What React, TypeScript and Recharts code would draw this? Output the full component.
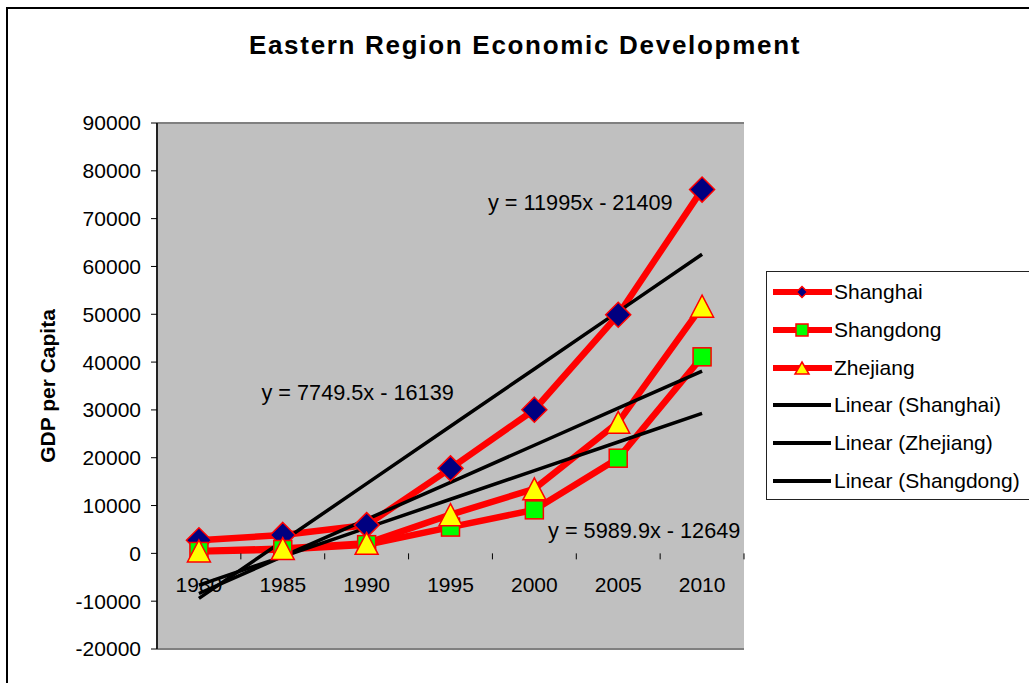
import React from 'react';
import {
  LineChart,
  Line,
  XAxis,
  YAxis,
  CartesianGrid,
  Legend,
  ReferenceDot,
} from 'recharts';

// ---- data ----
const years = ['1980', '1985', '1990', '1995', '2000', '2005', '2010'];
const shanghai = [2738, 3855, 5911, 17779, 30047, 49900, 76074];
const shandong = [400, 800, 1815, 5500, 9100, 19900, 41100];
const zhejiang = [500, 1000, 2100, 8100, 13500, 27400, 51700];
// trendline values as shown by the fitted equations in the picture
const trendShanghai = [-9414, 2581, 14576, 26571, 38566, 50561, 62556];
const trendZhejiang = [-8390, -640, 7110, 14859, 22609, 30358, 38108];
const trendShandong = [-6659, -669, 5321, 11311, 17301, 23290, 29280];
const yTicks = [-20000, -10000, 0, 10000, 20000, 30000, 40000, 50000, 60000, 70000, 80000, 90000];
const equations = [
  { text: 'y = 11995x - 21409', year: '2000', value: 73400, dx: 46 },
  { text: 'y = 7749.5x - 16139', year: '1990', value: 33650, dx: -9 },
  { text: 'y = 5989.9x - 12649', year: '2005', value: 4790, dx: 26 },
];

const data = years.map((year, i) => ({
  year,
  shanghai: shanghai[i],
  shandong: shandong[i],
  zhejiang: zhejiang[i],
  trendSH: trendShanghai[i],
  trendZJ: trendZhejiang[i],
  trendSD: trendShandong[i],
}));

// ---- layout constants ----
const W = 1029;
const H = 683;
const PLOT_LEFT = 157;
const PLOT_RIGHT = 744;
const PLOT_TOP = 123;
const PLOT_BOTTOM = 649;
const Y_MIN = -20000;
const Y_MAX = 90000;
const PLOT_W = PLOT_RIGHT - PLOT_LEFT;
const PLOT_H = PLOT_BOTTOM - PLOT_TOP;
const ZERO_Y = PLOT_TOP + (PLOT_H * (Y_MAX - 0)) / (Y_MAX - Y_MIN);
const FONT = '"Liberation Sans", Arial, sans-serif';
const RED = '#FF0000';
const X_AXIS_H = 20;

// ---- markers ----
const Diamond = ({ cx, cy, r = 12.5 }: any) => (
  <polygon
    points={`${cx},${cy - r} ${cx + r},${cy} ${cx},${cy + r} ${cx - r},${cy}`}
    fill="#000080"
    stroke={RED}
    strokeWidth={1.5}
  />
);
const Square = ({ cx, cy, s = 18 }: any) => (
  <rect x={cx - s / 2} y={cy - s / 2} width={s} height={s} fill="#00FF00" stroke={RED} strokeWidth={1.5} />
);
const Triangle = ({ cx, cy, w = 23, h = 22 }: any) => (
  <polygon
    points={`${cx},${cy - h / 2} ${cx + w / 2},${cy + h / 2} ${cx - w / 2},${cy + h / 2}`}
    fill="#FFFF00"
    stroke={RED}
    strokeWidth={1.5}
  />
);

type Kind = 'diamond' | 'square' | 'triangle' | 'trend';
const series: { key: string; name: string; kind: Kind }[] = [
  { key: 'shanghai', name: 'Shanghai', kind: 'diamond' },
  { key: 'shandong', name: 'Shangdong', kind: 'square' },
  { key: 'zhejiang', name: 'Zhejiang', kind: 'triangle' },
  { key: 'trendSH', name: 'Linear (Shanghai)', kind: 'trend' },
  { key: 'trendZJ', name: 'Linear (Zhejiang)', kind: 'trend' },
  { key: 'trendSD', name: 'Linear (Shangdong)', kind: 'trend' },
];

const makeDot = (kind: Kind) => (p: any) => {
  const k = `${kind}-${p.index}`;
  if (p.cx == null || p.cy == null) return <g key={k} />;
  if (kind === 'diamond') return <Diamond key={k} cx={p.cx} cy={p.cy} />;
  if (kind === 'square') return <Square key={k} cx={p.cx} cy={p.cy} />;
  return <Triangle key={k} cx={p.cx} cy={p.cy} />;
};

const renderXTick = (props: any) => {
  const { x, payload, index } = props;
  const bw = PLOT_W / years.length;
  return (
    <g key={`xt-${index}`}>
      <line x1={x + bw / 2} x2={x + bw / 2} y1={ZERO_Y} y2={ZERO_Y + 6} stroke="#000" strokeWidth={1} />
      <text x={x} y={ZERO_Y + 39} textAnchor="middle" fontSize={21} fontFamily={FONT} fill="#000">
        {payload.value}
      </text>
    </g>
  );
};

const YLabel = (props: any) => {
  const vb = props.viewBox || { x: 0, y: PLOT_TOP, width: PLOT_LEFT, height: PLOT_H };
  const cx = vb.x + 47;
  const cy = vb.y + vb.height / 2;
  return (
    <text
      x={cx}
      y={cy}
      transform={`rotate(-90 ${cx} ${cy})`}
      textAnchor="middle"
      dominantBaseline="central"
      fontSize={21}
      fontWeight="bold"
      fontFamily={FONT}
      fill="#000"
    >
      GDP per Capita
    </text>
  );
};

const gridLine = (p: any) => {
  const edge = Math.abs(p.y1 - PLOT_TOP) < 1.5 || Math.abs(p.y1 - PLOT_BOTTOM) < 1.5;
  return (
    <line
      key={p.key ?? `g-${p.index}`}
      x1={p.x1}
      x2={p.x2}
      y1={p.y1}
      y2={p.y2}
      stroke={edge ? '#808080' : '#000'}
      strokeWidth={edge ? 2 : 1}
    />
  );
};

const LegendIcon = ({ kind }: { kind: Kind }) => {
  const cx = 35;
  const cy = 19;
  if (kind === 'trend')
    return <line x1={6} x2={64} y1={cy} y2={cy} stroke="#000" strokeWidth={4} />;
  return (
    <g>
      <line x1={6} x2={65} y1={cy} y2={cy} stroke={RED} strokeWidth={6} />
      {kind === 'diamond' && <Diamond cx={cx} cy={cy} r={5.5} />}
      {kind === 'square' && <Square cx={cx} cy={cy} s={12} />}
      {kind === 'triangle' && <Triangle cx={cx} cy={cy} w={14} h={12} />}
    </g>
  );
};

const LegendBox = () => (
  <div
    style={{
      width: 300,
      height: 229,
      border: '1.5px solid #222',
      background: '#fff',
      boxSizing: 'border-box',
      paddingTop: 1,
      fontFamily: FONT,
    }}
  >
    {series.map((s) => (
      <div key={s.key} style={{ position: 'relative', height: 37.8 }}>
        <svg width={68} height={38} style={{ position: 'absolute', left: 0, top: 0 }}>
          <LegendIcon kind={s.kind} />
        </svg>
        <span
          style={{
            position: 'absolute',
            left: 67,
            top: 0,
            lineHeight: '38px',
            fontSize: 21,
            color: '#000',
            whiteSpace: 'nowrap',
          }}
        >
          {s.name}
        </span>
      </div>
    ))}
  </div>
);

export default function App() {
  return (
    <div
      style={{
        position: 'absolute',
        left: 0,
        top: 0,
        width: W,
        height: H,
        overflow: 'hidden',
        background: '#fff',
        fontFamily: FONT,
      }}
    >
      <div
        style={{
          position: 'absolute',
          left: 6,
          top: 7,
          width: 1100,
          height: 800,
          border: '2px solid #000',
        }}
      />
      <div
        style={{
          position: 'absolute',
          left: 0,
          width: 1050,
          top: 30,
          textAlign: 'center',
          fontSize: 26,
          lineHeight: '30px',
          fontWeight: 'bold',
          letterSpacing: 1.7,
          color: '#000',
          fontFamily: FONT,
        }}
      >
        Eastern Region Economic Development
      </div>
      <div style={{ position: 'absolute', left: 0, top: 0 }}>
        <LineChart
          width={W}
          height={H}
          data={data}
          margin={{ top: PLOT_TOP, right: W - PLOT_RIGHT, bottom: H - PLOT_BOTTOM - X_AXIS_H, left: 0 }}
        >
          <CartesianGrid vertical={false} horizontal={gridLine as any} fill="#C0C0C0" fillOpacity={1} />
          <XAxis
            dataKey="year"
            scale="band"
            interval={0}
            height={X_AXIS_H}
            axisLine={false}
            tickLine={false}
            tick={renderXTick}
          />
          <YAxis
            yAxisId="left"
            width={PLOT_LEFT}
            domain={[Y_MIN, Y_MAX]}
            ticks={yTicks}
            interval={0}
            tickSize={6}
            tickMargin={10}
            axisLine={{ stroke: '#222', strokeWidth: 2 }}
            tickLine={{ stroke: '#000' }}
            tick={{ fontSize: 21, fill: '#000', fontFamily: FONT }}
            label={<YLabel />}
          />
          <YAxis
            yAxisId="right"
            orientation="right"
            width={0}
            domain={[Y_MIN, Y_MAX]}
            tick={false}
            tickLine={false}
            axisLine={{ stroke: '#808080', strokeWidth: 2 }}
          />
          {series.map((s) =>
            s.kind === 'trend' ? (
              <Line
                key={s.key}
                yAxisId="left"
                dataKey={s.key}
                name={s.name}
                stroke="#000"
                strokeWidth={3.5}
                dot={false}
                activeDot={false}
                isAnimationActive={false}
              />
            ) : (
              <Line
                key={s.key}
                yAxisId="left"
                dataKey={s.key}
                name={s.name}
                stroke={RED}
                strokeWidth={6.5}
                dot={makeDot(s.kind)}
                activeDot={false}
                isAnimationActive={false}
              />
            )
          )}
          {equations.map((e) => (
            <ReferenceDot
              key={e.text}
              yAxisId="left"
              x={e.year}
              y={e.value}
              r={0}
              shape={(p: any) => (
                <text
                  x={p.cx + e.dx}
                  y={p.cy + 7.8}
                  textAnchor="middle"
                  fontSize={21.7}
                  fontFamily={FONT}
                  fill="#000"
                >
                  {e.text}
                </text>
              )}
            />
          ))}
          <Legend
            layout="vertical"
            align="center"
            verticalAlign="middle"
            content={<LegendBox />}
            wrapperStyle={{ position: 'absolute', left: 766, top: 271, width: 300, height: 229 }}
          />
        </LineChart>
      </div>
    </div>
  );
}
